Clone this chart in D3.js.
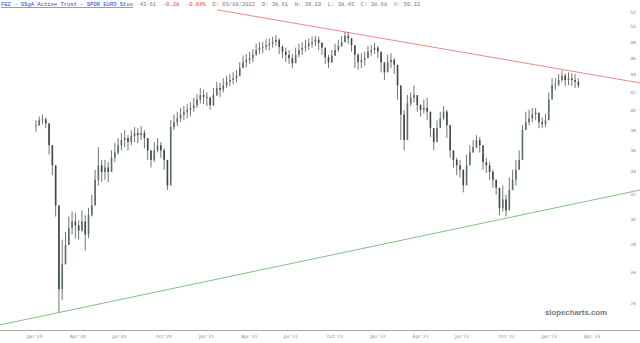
<!DOCTYPE html>
<html>
<head>
<meta charset="utf-8">
<script src="https://cdn.jsdelivr.net/npm/d3@7"></script>
<style>
  body { margin: 0; background: #fff; }
  svg { display: block; }
</style>
</head>
<body>
<div id="chart"></div>
<script>
// Weekly candles, first week starting 2020-01-20
const firstWeek = new Date(2020, 0, 20);
const closes = [38.5,39.0,39.1,38.7,36.5,34.6,31.1,24.9,26.6,28.0,
  29.3,29.8,29.5,29.1,29.8,28.8,30.3,31.1,33.3,34.6,
  34.0,34.4,34.0,35.3,35.8,36.5,37.0,37.2,36.8,37.4,
  37.7,37.5,37.7,37.2,36.0,35.1,36.0,36.5,36.0,35.1,
  32.8,38.3,38.8,39.2,39.6,39.9,40.1,40.3,40.6,41.2,
  41.7,41.5,41.4,40.6,41.7,42.5,42.3,42.8,43.2,43.4,
  43.6,43.9,44.8,45.5,45.8,46.0,46.4,47.0,47.3,47.4,
  47.6,47.8,48.0,48.3,47.4,46.8,46.4,46.0,45.4,46.4,
  47.0,47.3,47.5,47.8,48.0,48.3,47.9,47.3,46.1,45.5,
  46.3,47.0,47.5,48.0,48.8,48.5,47.6,46.4,45.5,45.8,
  46.0,46.8,47.0,47.3,46.8,45.5,44.3,45.5,45.8,45.2,
  42.8,39.6,37.0,40.8,41.4,41.7,40.6,40.1,40.3,39.9,
  38.2,36.8,38.2,39.2,39.9,38.5,36.0,35.1,34.6,34.2,
  32.8,34.6,35.8,36.3,37.0,36.5,34.9,34.6,34.0,33.3,
  32.6,30.9,31.6,30.7,32.4,33.3,34.2,35.1,38.0,38.8,
  39.2,39.6,39.8,38.8,38.6,39.0,41.2,42.8,42.9,43.4,
  43.9,43.4,43.6,43.4,43.2,42.8];
const highs = [39.0,39.4,39.6,39.3,38.5,36.5,34.6,31.1,28.4,29.0,
  30.2,30.6,30.5,29.9,30.7,30.3,30.9,32.0,34.2,36.3,
  35.1,35.1,34.9,36.0,36.7,37.2,37.7,38.0,37.5,38.0,
  38.3,38.2,38.4,38.0,37.2,36.0,36.8,37.2,36.8,36.2,
  34.9,39.0,39.6,39.9,40.3,40.5,40.7,40.9,41.4,41.8,
  42.5,42.3,42.0,41.5,42.5,43.2,43.1,43.6,43.9,44.1,
  44.3,44.6,45.5,46.3,46.5,46.8,47.1,47.8,48.0,48.0,
  48.4,48.5,48.7,48.9,48.5,47.6,47.3,47.0,46.5,47.3,
  47.8,48.0,48.3,48.5,48.7,48.8,48.7,48.0,47.0,46.4,
  47.0,47.8,48.3,48.8,49.3,49.3,48.5,47.6,46.6,46.6,
  46.8,47.5,47.6,47.9,47.5,46.4,45.2,46.4,46.6,46.0,
  44.3,41.7,40.1,41.7,42.0,42.8,41.4,40.7,41.2,41.4,
  39.2,37.8,39.0,39.9,40.5,40.1,37.2,36.0,35.3,35.1,
  34.2,35.6,36.5,37.0,37.5,37.3,35.6,35.3,34.9,34.2,
  33.3,32.0,32.8,32.0,33.5,34.2,35.1,36.0,38.5,39.9,
  40.1,40.3,40.3,39.6,39.3,39.7,42.0,43.6,43.6,44.1,
  44.5,44.2,44.3,44.2,44.1,43.6];
const lows = [37.8,38.4,38.6,38.2,35.6,33.7,30.2,23.4,24.2,26.6,
  28.0,28.8,28.5,28.4,29.0,27.6,28.5,30.2,31.1,32.8,
  33.1,33.3,33.1,34.0,34.9,35.6,36.0,36.3,36.0,36.5,
  36.8,36.7,37.0,36.2,35.1,34.4,34.9,35.8,35.3,34.2,
  32.4,33.3,38.0,38.4,38.8,39.0,39.2,39.4,39.9,40.3,
  40.8,40.7,40.5,40.1,40.5,41.6,41.5,42.0,42.5,42.7,
  42.9,43.1,43.8,44.8,44.9,45.3,45.5,46.3,46.5,46.6,
  47.0,47.0,47.3,47.5,46.5,46.0,45.5,45.3,44.8,45.4,
  46.1,46.4,46.8,47.0,47.3,47.5,47.0,46.4,45.3,44.8,
  45.4,46.3,46.8,47.4,48.0,47.8,46.8,44.8,44.6,44.8,
  45.1,46.0,46.3,46.5,46.0,44.3,43.4,44.6,44.8,44.1,
  41.2,37.0,36.0,39.9,40.5,40.9,39.9,39.4,39.7,39.0,
  37.3,36.0,37.2,38.4,39.0,37.2,35.3,34.4,33.7,33.5,
  32.2,33.7,35.1,35.8,36.2,35.8,34.2,33.9,33.3,32.6,
  32.0,30.3,30.6,30.2,31.6,32.4,32.8,34.2,36.0,38.0,
  38.5,38.8,39.0,38.2,38.2,38.3,39.9,42.0,42.3,42.7,
  43.2,42.7,42.8,42.7,42.5,42.5];

// Axis ticks
const priceTicks = [24, 26, 28, 30, 32, 34, 36, 38, 40, 42, 44, 46, 48, 50, 52];
const dateTicks = [
  new Date(2020, 0, 1), new Date(2020, 3, 1), new Date(2020, 6, 1), new Date(2020, 9, 1),
  new Date(2021, 0, 1), new Date(2021, 3, 1), new Date(2021, 6, 1), new Date(2021, 9, 1),
  new Date(2022, 0, 1), new Date(2022, 3, 1), new Date(2022, 6, 1), new Date(2022, 9, 1),
  new Date(2023, 0, 1), new Date(2023, 3, 1)
];

// Trend lines: [date, price] end points
const resistance = [[new Date(2021, 1, 9), 52.3], [new Date(2023, 6, 30), 43.06]];
const support = [[new Date(2019, 10, 4), 22.64], [new Date(2023, 6, 30), 32.41]];

// Header text pieces
const headerTitle = "FEZ - SSgA Active Trust - SPDR EURO Stox";
const headerLast = "43.61";
const headerChange = "-0.28  -0.64%";
const headerInfo = "D: 03/10/2022  O: 38.61  H: 39.19  L: 38.45  C: 38.68  V: 50.32";

const width = 640, height = 343;

const svg = d3.select("#chart").append("svg")
    .attr("width", width)
    .attr("height", height);

const x = d3.scaleTime()
    .domain([new Date(2020, 0, 1), new Date(2023, 3, 1)])
    .range([27, 584]);

const y = d3.scaleLog()
    .domain([24, 52])
    .range([303, 12]);

const candles = closes.map((c, i) => ({
    date: d3.timeWeek.offset(firstWeek, i),
    open: i === 0 ? c : closes[i - 1],
    high: highs[i],
    low: lows[i],
    close: c
}));

// bottom axis line
svg.append("line")
    .attr("x1", 0).attr("x2", width)
    .attr("y1", 330.5).attr("y2", 330.5)
    .attr("stroke", "#a8a8a8")
    .attr("stroke-width", 1.2);

// x labels
svg.append("g")
    .selectAll("text")
    .data(dateTicks)
    .join("text")
    .attr("x", d => x(d))
    .attr("y", 338)
    .attr("font-family", "DejaVu Sans, sans-serif")
    .attr("font-size", 4.5)
    .attr("fill", "#888")
    .text(d => d3.timeFormat("%b '%y")(d));

// y labels
svg.append("g")
    .selectAll("text")
    .data(priceTicks)
    .join("text")
    .attr("x", 633)
    .attr("y", d => y(d) + 1.5)
    .attr("text-anchor", "middle")
    .attr("font-family", "DejaVu Sans, sans-serif")
    .attr("font-size", 4.5)
    .attr("fill", "#888")
    .text(d => d);

// trend lines
const line = d3.line().x(d => x(d[0])).y(d => y(d[1]));
svg.append("path")
    .attr("d", line(resistance))
    .attr("fill", "none")
    .attr("stroke", "#ec7b7b")
    .attr("stroke-width", 0.9);
svg.append("path")
    .attr("d", line(support))
    .attr("fill", "none")
    .attr("stroke", "#78b878")
    .attr("stroke-width", 0.9);

// candles
const bars = svg.append("g");
bars.selectAll("line")
    .data(candles)
    .join("line")
    .attr("x1", d => x(d.date))
    .attr("x2", d => x(d.date))
    .attr("y1", d => y(d.high))
    .attr("y2", d => y(d.low))
    .attr("stroke", "#3a3a3a")
    .attr("stroke-width", 0.7);

bars.selectAll("rect")
    .data(candles)
    .join("rect")
    .attr("x", d => x(d.date) - 0.8)
    .attr("width", 1.6)
    .attr("y", d => y(Math.max(d.open, d.close)))
    .attr("height", d => Math.max(0.8, Math.abs(y(d.open) - y(d.close))))
    .attr("fill", d => d.close >= d.open ? "#56735a" : "#444")
    .attr("stroke", "none");

// header
const header = svg.append("text")
    .attr("x", 1)
    .attr("y", 6)
    .attr("font-family", "Liberation Mono, monospace")
    .attr("font-size", 5.5)
    .attr("xml:space", "preserve");
header.append("tspan").attr("fill", "#2b45c8").attr("text-decoration", "underline").text(headerTitle);
header.append("tspan").attr("fill", "#777").text("  " + headerLast);
header.append("tspan").attr("fill", "#e04040").text("  " + headerChange);
header.append("tspan").attr("fill", "#777").text("  " + headerInfo);

// watermark
svg.append("text")
    .attr("x", 545)
    .attr("y", 315)
    .attr("font-family", "Liberation Sans, Arial, sans-serif")
    .attr("font-weight", "bold")
    .attr("font-size", 7.8)
    .attr("fill", "#777")
    .text("slopecharts.com");
</script>
</body>
</html>
